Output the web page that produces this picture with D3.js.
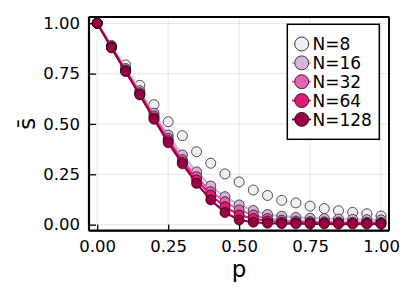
<!DOCTYPE html>
<html><head><meta charset="utf-8">
<script src="https://cdn.jsdelivr.net/npm/d3@7"></script>
<style>body{margin:0;background:#fff}svg{display:block}text{font-family:"DejaVu Sans",sans-serif}</style>
</head><body><svg id="c" width="407" height="296"></svg>
<script>
const pValues = [0,0.05,0.1,0.15,0.2,0.25,0.3,0.35,0.4,0.45,0.5,0.55,0.6,0.65,0.7,0.75,0.8,0.85,0.9,0.95,1.0];
const seriesNames = ["N=8","N=16","N=32","N=64","N=128"];
const colors = ["#f1eef6","#d7b5d8","#df65b0","#dd1c77","#980043"];
const s8   = [1.0,0.89,0.793,0.692,0.596,0.511,0.442,0.362,0.305,0.252,0.212,0.172,0.145,0.121,0.108,0.092,0.08,0.069,0.061,0.054,0.043];
const s16  = [1.0,0.885,0.775,0.665,0.553,0.445,0.346,0.262,0.192,0.139,0.098,0.07,0.05,0.042,0.036,0.032,0.03,0.028,0.026,0.025,0.024];
const s32  = [1.0,0.882,0.768,0.655,0.54,0.428,0.322,0.238,0.164,0.114,0.073,0.048,0.03,0.022,0.018,0.015,0.014,0.013,0.012,0.012,0.011];
const s64  = [1.0,0.88,0.763,0.648,0.53,0.417,0.31,0.222,0.147,0.089,0.048,0.03,0.018,0.012,0.01,0.009,0.008,0.008,0.007,0.007,0.007];
const s128 = [1.0,0.878,0.76,0.644,0.523,0.407,0.302,0.205,0.123,0.06,0.023,0.012,0.007,0.005,0.005,0.004,0.004,0.003,0.003,0.003,0.003];
const seriesValues = [s8,s16,s32,s64,s128];
const xTicks = [0,0.25,0.5,0.75,1.0];
const yTicks = [0,0.25,0.5,0.75,1.0];
const xLabel = "p";
const yLabel = "s\u0304";

const svg = d3.select("#c");
const L = 89, R = 389, T = 17, B = 230.7;
const x = d3.scaleLinear().domain([-0.029,1.028]).range([L,R]);
const y = d3.scaleLinear().domain([-0.03,1.031]).range([B,T]);

// grid
svg.append("g").selectAll("line").data(xTicks).join("line")
  .attr("x1",d=>x(d)).attr("x2",d=>x(d)).attr("y1",T).attr("y2",B)
  .attr("stroke","#000").attr("stroke-opacity",0.1).attr("stroke-width",1);
svg.append("g").selectAll("line").data(yTicks).join("line")
  .attr("y1",d=>y(d)).attr("y2",d=>y(d)).attr("x1",L).attr("x2",R)
  .attr("stroke","#000").attr("stroke-opacity",0.1).attr("stroke-width",1);

// axes
const fmt = d3.format(".2f");
const xAxis = svg.append("g").attr("transform",`translate(0,${B})`)
  .call(d3.axisBottom(x).tickValues(xTicks).tickFormat(fmt).tickSizeInner(-6).tickSizeOuter(0).tickPadding(10));
const yAxis = svg.append("g").attr("transform",`translate(${L},0)`)
  .call(d3.axisLeft(y).tickValues(yTicks).tickFormat(fmt).tickSizeInner(-7).tickSizeOuter(0).tickPadding(9));
[xAxis,yAxis].forEach(a=>{
  a.select(".domain").remove();
  a.selectAll(".tick line").attr("stroke","#000").attr("stroke-width",1.3);
  a.selectAll(".tick text").attr("font-family","DejaVu Sans").attr("font-size","16.5px").attr("fill","#000");
});
xAxis.selectAll(".tick text").attr("dy","0.71em");

// frame
svg.append("rect").attr("x",L).attr("y",T).attr("width",R-L).attr("height",B-T)
  .attr("fill","none").attr("stroke","#000").attr("stroke-width",1.2);
svg.append("line").attr("x1",L).attr("x2",R).attr("y1",B).attr("y2",B).attr("stroke","#000").attr("stroke-width",2.2);
svg.append("line").attr("x1",L).attr("x2",L).attr("y1",T).attr("y2",B).attr("stroke","#000").attr("stroke-width",2.2);
svg.append("line").attr("x1",L).attr("x2",R).attr("y1",T).attr("y2",T).attr("stroke","#000").attr("stroke-width",1.8);
svg.append("line").attr("x1",R).attr("x2",R).attr("y1",T).attr("y2",B).attr("stroke","#000").attr("stroke-width",1.8);

// series
const line = d3.line().x((d,i)=>x(pValues[i])).y(d=>y(d));
seriesValues.forEach((vals,k)=>{
  const g = svg.append("g");
  g.append("path").datum(vals).attr("d",line).attr("fill","none")
    .attr("stroke",colors[k]).attr("stroke-width",2.2);
  g.selectAll("circle").data(vals).join("circle")
    .attr("cx",(d,i)=>x(pValues[i])).attr("cy",d=>y(d)).attr("r",5)
    .attr("fill",colors[k]).attr("stroke","#000").attr("stroke-opacity",0.75).attr("stroke-width",0.9);
});

// labels
svg.append("text").attr("x",(L+R)/2).attr("y",277).attr("text-anchor","middle")
  .attr("font-size","23px").attr("fill","#000").text(xLabel);
svg.append("text").attr("transform",`translate(35,${(T+B)/2}) rotate(-90)`).attr("text-anchor","middle")
  .attr("font-size","23px").attr("fill","#000").text(yLabel);

// legend
const lg = svg.append("g");
lg.append("rect").attr("x",287.3).attr("y",24.3).attr("width",92).attr("height",115)
  .attr("fill","#fff").attr("stroke","#000").attr("stroke-width",1.5);
seriesNames.forEach((n,k)=>{
  const cy = 44 + k*18.85;
  lg.append("line").attr("x1",292).attr("x2",311).attr("y1",cy).attr("y2",cy)
    .attr("stroke",colors[k]).attr("stroke-width",2);
  lg.append("circle").attr("cx",301.7).attr("cy",cy).attr("r",7)
    .attr("fill",colors[k]).attr("stroke","#000").attr("stroke-opacity",0.75).attr("stroke-width",1);
  lg.append("text").attr("x",312.5).attr("y",cy+6.2).attr("font-size","17px").attr("fill","#000").text(n);
});
</script></body></html>
